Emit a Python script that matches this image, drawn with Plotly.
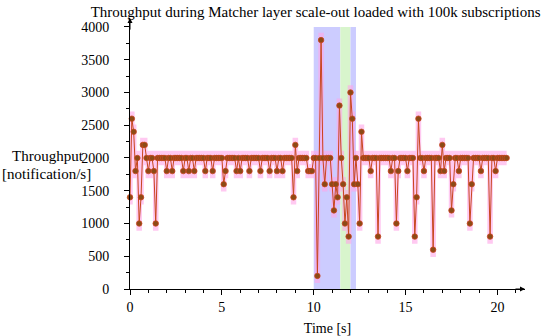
import plotly.graph_objects as go

# ---- data ----
time_step = 0.1  # sampling interval [s]
throughput = [
    1400, 2600, 2400, 1800, 2000, 1000, 1400, 2200, 2200, 2000,   # 0.0-0.9
    1800, 2000, 2000, 1800, 1000, 2000, 2000, 2000, 2000, 2000,   # 1.0-1.9
    1800, 2000, 2000, 1800, 2000, 2000, 2000, 2000, 2000, 1800,   # 2.0-2.9
    2000, 2000, 1800, 2000, 2000, 1800, 2000, 2000, 2000, 2000,   # 3.0-3.9
    2000, 1800, 2000, 2000, 2000, 1800, 2000, 2000, 2000, 2000,   # 4.0-4.9
    2000, 1600, 1800, 2000, 2000, 2000, 2000, 2000, 1800, 2000,   # 5.0-5.9
    1800, 2000, 2000, 2000, 2000, 1800, 2000, 2000, 2000, 2000,   # 6.0-6.9
    2000, 1800, 2000, 2000, 2000, 2000, 1800, 2000, 2000, 2000,   # 7.0-7.9
    1800, 2000, 2000, 1800, 2000, 2000, 2000, 2000, 2000, 1400,   # 8.0-8.9
    2200, 1800, 2000, 2000, 2000, 2000, 2000, 1800, 1800, 1800,   # 9.0-9.9
    2000, 2000, 200, 2000, 3800, 2000, 1600, 2000, 2000, 2000,    # 10.0-10.9
    1600, 1200, 1600, 1400, 2800, 2000, 1600, 1000, 1400, 800,    # 11.0-11.9
    3000, 2600, 1600, 2000, 1600, 1000, 2400, 2000, 2000, 2000,   # 12.0-12.9
    2000, 1800, 2000, 2000, 2000, 800, 2000, 2000, 2000, 2000,    # 13.0-13.9
    2000, 2000, 1800, 2000, 2000, 1000, 1800, 2000, 2000, 2000,   # 14.0-14.9
    2000, 1800, 2000, 2000, 2000, 800, 1400, 2600, 2000, 2000,    # 15.0-15.9
    1800, 2000, 2000, 2000, 2000, 600, 2000, 2000, 2000, 1800,    # 16.0-16.9
    2200, 1800, 2000, 2000, 2000, 1200, 1600, 2000, 2000, 1800,   # 17.0-17.9
    2000, 2000, 2000, 2000, 2000, 1000, 1600, 2000, 2000, 2000,   # 18.0-18.9
    2000, 1800, 2000, 2000, 2000, 2000, 800, 2000, 2000, 1800,    # 19.0-19.9
    2000, 2000, 2000, 2000, 2000, 2000,                           # 20.0-20.5
]
# scale-out phases (start, end) [s]
phase_blue_1 = (10.0, 11.45)
phase_green = (11.45, 12.0)
phase_blue_2 = (12.0, 12.3)

x_ticks = [0, 5, 10, 15, 20]
y_ticks = [0, 500, 1000, 1500, 2000, 2500, 3000, 3500, 4000]

times = [round(i * time_step, 1) for i in range(len(throughput))]
n = len(throughput)
band_pad = 110
upper = [max(throughput[max(0, i - 1):i + 2]) + band_pad for i in range(n)]
lower = [min(throughput[max(0, i - 1):i + 2]) - band_pad for i in range(n)]

FONT = "Liberation Serif"
LINE = "#c8461e"
DOT = "#8c4a16"
PINK = "rgba(255,165,232,0.6)"

fig = go.Figure()
fig.add_trace(go.Scatter(x=times, y=lower, mode="lines", line=dict(width=0, shape="hvh"),
                         hoverinfo="skip", showlegend=False))
fig.add_trace(go.Scatter(x=times, y=upper, mode="lines", line=dict(width=0, shape="hvh"),
                         fill="tonexty", fillcolor=PINK, hoverinfo="skip", showlegend=False))
fig.add_trace(go.Scatter(x=times, y=throughput, mode="lines+markers",
                         line=dict(color=LINE, width=1),
                         marker=dict(size=5.5, color=DOT, line=dict(color=LINE, width=0.8)),
                         showlegend=False, cliponaxis=False))

for (x0, x1), col in [(phase_blue_1, "#ccccff"), (phase_green, "#d8f5cc"), (phase_blue_2, "#ccccff")]:
    fig.add_shape(type="rect", xref="x", yref="y", x0=x0, x1=x1, y0=0, y1=4000,
                  fillcolor=col, line=dict(width=0), layer="below")

x_max = 21.5
y_max = 4137
fig.add_annotation(x=x_max, y=0, ax=x_max - 0.6, ay=0, xref="x", yref="y", axref="x", ayref="y",
                   text="", showarrow=True, arrowhead=2, arrowsize=1, arrowwidth=1, arrowcolor="black")
fig.add_annotation(x=0, y=y_max, ax=0, ay=y_max - 200, xref="x", yref="y", axref="x", ayref="y",
                   text="", showarrow=True, arrowhead=2, arrowsize=1, arrowwidth=1, arrowcolor="black")

fig.add_annotation(x=-0.207, y=2030, xref="paper", yref="y", text="Throughput", showarrow=False,
                   xanchor="center", yanchor="middle", font=dict(family=FONT, size=15, color="black"))
fig.add_annotation(x=-0.2115, y=1760, xref="paper", yref="y", text="[notification/s]", showarrow=False,
                   xanchor="center", yanchor="middle", font=dict(family=FONT, size=15, color="black"))

fig.update_layout(
    width=550, height=336,
    margin=dict(l=130, r=25, t=18, b=47),
    paper_bgcolor="white", plot_bgcolor="white",
    font=dict(family=FONT, size=14, color="black"),
    title=dict(text="Throughput during Matcher layer scale-out loaded with 100k subscriptions",
               xref="paper", x=0.47, xanchor="center", yref="container", y=0.965, yanchor="middle",
               font=dict(family=FONT, size=15, color="black")),
    xaxis=dict(range=[0, x_max], tickvals=x_ticks, showline=True, linecolor="black", linewidth=1,
               ticks="outside", ticklen=5, tickcolor="black", showgrid=False, zeroline=False,
               automargin=False,
               minor=dict(dtick=1, ticks="outside", ticklen=3, tickcolor="black", showgrid=False),
               title=dict(text="Time [s]", standoff=9, font=dict(family=FONT, size=14))),
    yaxis=dict(range=[0, y_max], tickvals=y_ticks, showline=True, linecolor="black", linewidth=1,
               ticks="outside", ticklen=5, tickcolor="black", showgrid=False, zeroline=False,
               ticklabelstandoff=12, automargin=False,
               minor=dict(dtick=250, ticks="outside", ticklen=3, tickcolor="black", showgrid=False)),
)

fig.write_html("out.html", config={"displayModeBar": False},
               post_script="document.body.style.margin='0';")
